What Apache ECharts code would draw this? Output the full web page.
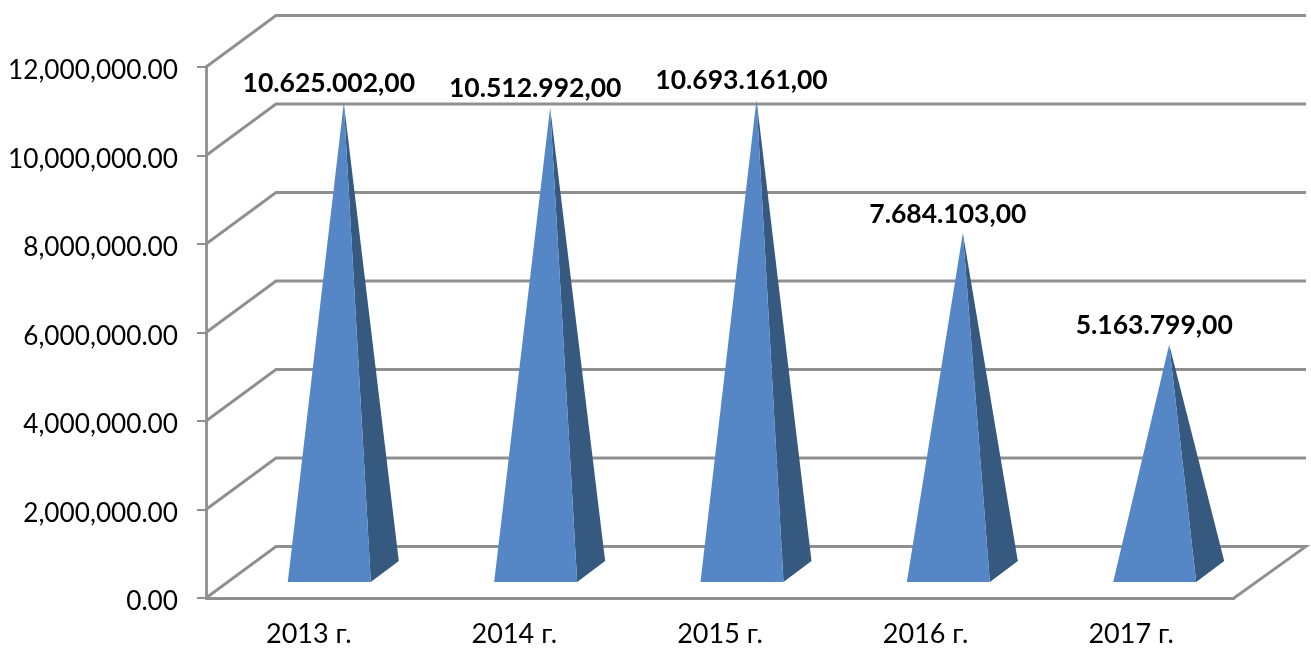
<!DOCTYPE html>
<html>
<head>
<meta charset="utf-8">
<style>
html, body { margin: 0; padding: 0; background: #fff; }
#chart { width: 1311px; height: 648px; }
</style>
<script src="https://cdn.jsdelivr.net/npm/echarts@6/dist/echarts.min.js"></script>
</head>
<body>
<div id="chart"></div>
<script>
var years = ['2013 г.', '2014 г.', '2015 г.', '2016 г.', '2017 г.'];
var values = [10625002, 10512992, 10693161, 7684103, 5163799];
var valueLabels = ['10.625.002,00', '10.512.992,00', '10.693.161,00', '7.684.103,00', '5.163.799,00'];
var yTicks = [0, 2000000, 4000000, 6000000, 8000000, 10000000, 12000000];

var lineColor = '#8f8f8f';
var font = 'Lato, "Noto Sans", sans-serif';

var myChart = echarts.init(document.getElementById('chart'), null, { renderer: 'canvas' });

// back wall + floor, drawn with a fixed oblique offset from the front plane
function renderWall(params, api) {
    var p = api.coord([0, api.value(0)]);
    var cs = params.coordSys;
    var left = cs.x;
    var right = cs.x + cs.width;
    var points = [[left, p[1]], [left + 70, p[1] - 51.5], [right + 72, p[1] - 51.5]];
    if (api.value(0) === 0) {
        points.push([right, p[1]]);
    }
    return {
        type: 'polyline',
        shape: { points: points },
        style: { stroke: lineColor, lineWidth: 2.8, fill: null }
    };
}

function renderPyramid(params, api) {
    var i = params.dataIndex;
    var base = api.coord([api.value(0), 0]);
    var top = api.coord([api.value(0), api.value(1)]);
    // pyramids sit a touch wider apart than the axis ticks
    var x = base[0] + i * 0.75;
    var fl = [x - 21, base[1] - 16];
    var fr = [x + 62, base[1] - 16];
    var br = [x + 90, base[1] - 37];
    var apex = [x + 35, top[1] - 25];
    return {
        type: 'group',
        children: [
            { type: 'polygon', shape: { points: [fr, br, apex] }, style: { fill: '#35597f' } },
            { type: 'polygon', shape: { points: [fl, fr, apex] }, style: { fill: '#5586c5' } },
            {
                type: 'text',
                style: {
                    text: valueLabels[i],
                    x: x + 20,
                    y: apex[1] - 19,
                    align: 'center',
                    verticalAlign: 'middle',
                    font: 'bold 26.5px ' + font,
                    fill: '#000'
                }
            }
        ]
    };
}

var option = {
    animation: false,
    grid: { left: 206, right: 77, top: 67, bottom: 49 },
    xAxis: {
        type: 'category',
        data: years,
        axisLine: { lineStyle: { color: lineColor, width: 2.8 } },
        axisTick: { length: 9, lineStyle: { color: lineColor, width: 2 } },
        axisLabel: { color: '#000', fontSize: 27, fontFamily: font, margin: 23 },
        splitLine: { show: false }
    },
    yAxis: {
        type: 'value',
        min: 0,
        max: 12000000,
        interval: 2000000,
        axisLine: { show: true, lineStyle: { color: lineColor, width: 2.8 } },
        axisTick: { show: true, length: 9, lineStyle: { color: lineColor, width: 2 } },
        axisLabel: {
            color: '#000',
            fontSize: 26.2,
            fontFamily: font,
            margin: 28,
            verticalAlign: 'top',
            lineHeight: 8,
            formatter: function (v) {
                return v.toLocaleString('en-US', { minimumFractionDigits: 2, maximumFractionDigits: 2 });
            }
        },
        splitLine: { show: false }
    },
    series: [
        {
            type: 'custom',
            renderItem: renderWall,
            coordinateSystem: 'cartesian2d',
            clip: false,
            encode: { y: 0 },
            data: yTicks.map(function (v) { return [v]; }),
            silent: true,
            z: 1
        },
        {
            type: 'custom',
            renderItem: renderPyramid,
            coordinateSystem: 'cartesian2d',
            clip: false,
            encode: { x: 0, y: 1 },
            data: values.map(function (v, i) { return [i, v]; }),
            z: 2
        }
    ]
};

option && myChart.setOption(option);
</script>
</body>
</html>
